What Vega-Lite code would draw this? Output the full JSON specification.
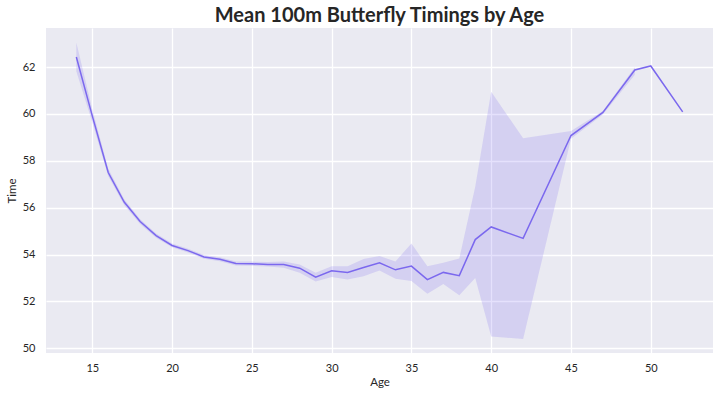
{
  "$schema": "https://vega.github.io/schema/vega-lite/v6.json",
  "width": 667,
  "height": 325,
  "autosize": {"type": "none"},
  "padding": {"left": 46, "top": 28, "right": 8, "bottom": 43},
  "background": "white",
  "title": {
    "text": "Mean 100m Butterfly Timings by Age",
    "font": "Lato",
    "fontSize": 20,
    "fontWeight": "bold",
    "color": "#262626",
    "anchor": "middle",
    "baseline": "bottom",
    "offset": 2,
    "dy": 20
  },
  "data": {
    "values": [
      {"age": 14, "time": 62.43, "lo": 61.82, "hi": 63.05},
      {"age": 15, "time": 59.92, "lo": 59.65, "hi": 60.2},
      {"age": 16, "time": 57.5, "lo": 57.35, "hi": 57.66},
      {"age": 17, "time": 56.24, "lo": 56.12, "hi": 56.36},
      {"age": 18, "time": 55.41, "lo": 55.31, "hi": 55.51},
      {"age": 19, "time": 54.81, "lo": 54.72, "hi": 54.9},
      {"age": 20, "time": 54.39, "lo": 54.31, "hi": 54.47},
      {"age": 21, "time": 54.17, "lo": 54.09, "hi": 54.25},
      {"age": 22, "time": 53.9, "lo": 53.82, "hi": 53.98},
      {"age": 23, "time": 53.8, "lo": 53.72, "hi": 53.89},
      {"age": 24, "time": 53.62, "lo": 53.53, "hi": 53.71},
      {"age": 25, "time": 53.61, "lo": 53.52, "hi": 53.7},
      {"age": 26, "time": 53.58, "lo": 53.49, "hi": 53.68},
      {"age": 27, "time": 53.58, "lo": 53.44, "hi": 53.71},
      {"age": 28, "time": 53.42, "lo": 53.22, "hi": 53.58},
      {"age": 29, "time": 53.04, "lo": 52.85, "hi": 53.22},
      {"age": 30, "time": 53.31, "lo": 53.04, "hi": 53.5},
      {"age": 31, "time": 53.24, "lo": 52.94, "hi": 53.5},
      {"age": 32, "time": 53.45, "lo": 53.08, "hi": 53.81},
      {"age": 33, "time": 53.65, "lo": 53.32, "hi": 53.94},
      {"age": 34, "time": 53.35, "lo": 52.97, "hi": 53.71},
      {"age": 35, "time": 53.51, "lo": 52.87, "hi": 54.47},
      {"age": 36, "time": 52.93, "lo": 52.33, "hi": 53.5},
      {"age": 37, "time": 53.24, "lo": 52.74, "hi": 53.65},
      {"age": 38, "time": 53.1, "lo": 52.26, "hi": 53.83},
      {"age": 39, "time": 54.64, "lo": 53.0, "hi": 56.89},
      {"age": 40, "time": 55.18, "lo": 50.5, "hi": 60.95},
      {"age": 42, "time": 54.69, "lo": 50.4, "hi": 58.96},
      {"age": 45, "time": 59.08, "lo": 58.94, "hi": 59.27},
      {"age": 47, "time": 60.07, "lo": 59.98, "hi": 60.13},
      {"age": 49, "time": 61.88, "lo": 61.67, "hi": 62.0},
      {"age": 50, "time": 62.05},
      {"age": 52, "time": 60.09}
    ]
  },
  "encoding": {
    "x": {
      "field": "age",
      "type": "quantitative",
      "title": "Age",
      "scale": {"domain": [12.1, 53.9], "nice": false, "zero": false},
      "axis": {"values": [15, 20, 25, 30, 35, 40, 45, 50], "labelPadding": 9, "titlePadding": 3}
    }
  },
  "layer": [
    {
      "mark": {"type": "area", "color": "mediumslateblue", "opacity": 0.2},
      "encoding": {
        "y": {
          "field": "lo",
          "type": "quantitative",
          "title": "Time",
          "scale": {"domain": [49.8, 63.67], "nice": false, "zero": false},
          "axis": {"values": [50, 52, 54, 56, 58, 60, 62], "labelPadding": 11, "titlePadding": 5}
        },
        "y2": {"field": "hi"}
      }
    },
    {
      "mark": {"type": "line", "color": "mediumslateblue", "strokeWidth": 1.5},
      "encoding": {
        "y": {"field": "time", "type": "quantitative"}
      }
    }
  ],
  "config": {
    "view": {"fill": "#EAEAF2", "stroke": null},
    "axis": {
      "domain": false,
      "ticks": false,
      "grid": true,
      "gridColor": "white",
      "gridWidth": 1.3,
      "labelFont": "Lato",
      "labelFontSize": 11,
      "labelColor": "#262626",
      "titleFont": "Lato",
      "titleFontSize": 11.5,
      "titleFontWeight": "normal",
      "titleColor": "#262626"
    }
  }
}
